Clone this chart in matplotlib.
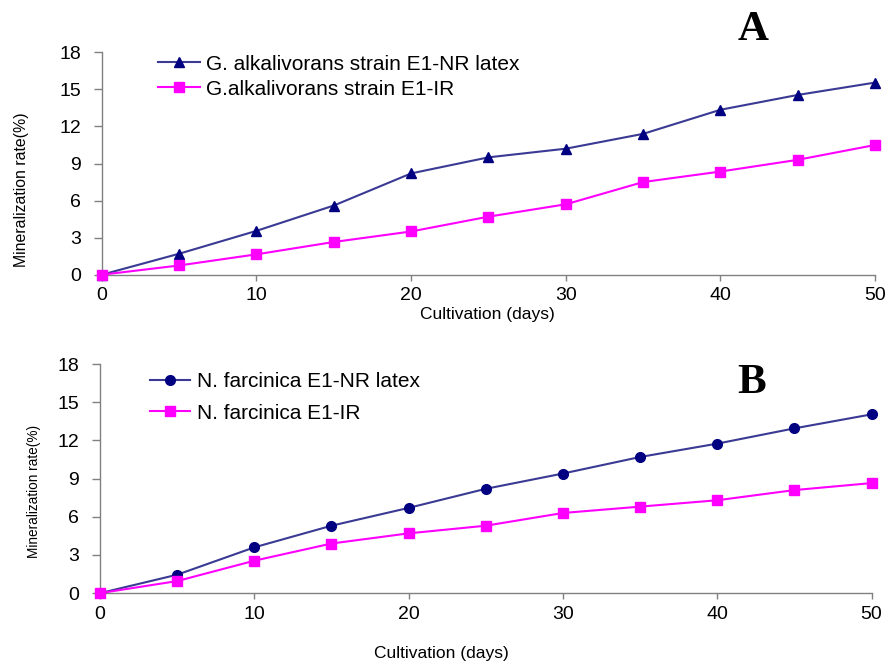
import matplotlib
matplotlib.use("Agg")
import matplotlib.pyplot as plt

plt.rcParams['font.family'] = ['Liberation Sans', 'DejaVu Sans']

days = [0, 5, 10, 15, 20, 25, 30, 35, 40, 45, 50]

# panel A
a_nr = [0, 1.7, 3.55, 5.6, 8.2, 9.5, 10.2, 11.4, 13.35, 14.55, 15.55]
a_ir = [0, 0.75, 1.65, 2.65, 3.5, 4.7, 5.7, 7.5, 8.35, 9.3, 10.5]
a_labels = ["G. alkalivorans strain E1-NR latex", "G.alkalivorans strain E1-IR"]

# panel B
b_nr = [0, 1.45, 3.6, 5.3, 6.7, 8.2, 9.4, 10.7, 11.75, 12.95, 14.05]
b_ir = [0, 0.95, 2.55, 3.9, 4.7, 5.3, 6.3, 6.8, 7.3, 8.1, 8.65]
b_labels = ["N. farcinica E1-NR latex", "N. farcinica E1-IR"]

yticks = [0, 3, 6, 9, 12, 15, 18]
xticks = [0, 10, 20, 30, 40, 50]

navy_line = "#3a3a94"
navy_mark = "#000080"
pink = "#ff00ff"

fig = plt.figure(figsize=(8.93, 6.62), dpi=100)


def style_axes(ax):
    ax.set_xlim(0, 50)
    ax.set_ylim(0, 18)
    ax.set_xticks(xticks)
    ax.set_yticks(yticks)
    for s in ["top", "right"]:
        ax.spines[s].set_visible(False)
    for s in ["left", "bottom"]:
        ax.spines[s].set_color("#808080")
        ax.spines[s].set_linewidth(1.0)
    ax.tick_params(axis="both", direction="out", width=1.0,
                   color="#808080", labelsize=14)
    ax.tick_params(axis="y", length=6, pad=9)
    ax.tick_params(axis="x", length=4, pad=5)


# ---- panel A
ax1 = fig.add_axes([0.114, 0.585, 0.866, 0.336])
style_axes(ax1)
ax1.plot(days, a_nr, color=navy_line, lw=1.5, marker="^", ms=7.5,
         mfc=navy_mark, mec=navy_mark, clip_on=False, label=a_labels[0], zorder=3)
ax1.plot(days, a_ir, color=pink, lw=1.5, marker="s", ms=7,
         mfc=pink, mec=pink, clip_on=False, label=a_labels[1], zorder=3)
ax1.set_xlabel("Cultivation (days)", fontsize=12.5, va="center")
ax1.xaxis.set_label_coords(0.498, -0.179)
ax1.set_ylabel("Mineralization rate(%)", fontsize=11.4, va="center")
ax1.yaxis.set_label_coords(-0.1035, 0.381)
ax1.legend(loc="upper left", bbox_to_anchor=(0.062, 1.027), frameon=False,
           fontsize=15, handlelength=2.0, handletextpad=0.29, labelspacing=0.29,
           borderaxespad=0)
fig.text(753 / 893, 1 - 30 / 662, "A", fontsize=31, fontweight="bold",
         family="Liberation Serif", ha="center", va="center")

# ---- panel B
ax2 = fig.add_axes([0.112, 0.104, 0.864, 0.346])
style_axes(ax2)
ax2.plot(days, b_nr, color=navy_line, lw=1.5, marker="o", ms=7,
         mfc=navy_mark, mec=navy_mark, clip_on=False, label=b_labels[0], zorder=3)
ax2.plot(days, b_ir, color=pink, lw=1.5, marker="s", ms=7,
         mfc=pink, mec=pink, clip_on=False, label=b_labels[1], zorder=3)
ax2.set_xlabel("Cultivation (days)", fontsize=12.5, va="center")
ax2.xaxis.set_label_coords(0.443, -0.262)
ax2.set_ylabel("Mineralization rate(%)", fontsize=9.8, va="center")
ax2.yaxis.set_label_coords(-0.0855, 0.445)
ax2.legend(loc="upper left", bbox_to_anchor=(0.054, 1.0), frameon=False,
           fontsize=15, handlelength=1.9, handletextpad=0.34, labelspacing=0.59,
           borderaxespad=0)
fig.text(752 / 893, 1 - 383 / 662, "B", fontsize=31, fontweight="bold",
         family="Liberation Serif", ha="center", va="center")

fig.savefig("out.png", dpi=100)
